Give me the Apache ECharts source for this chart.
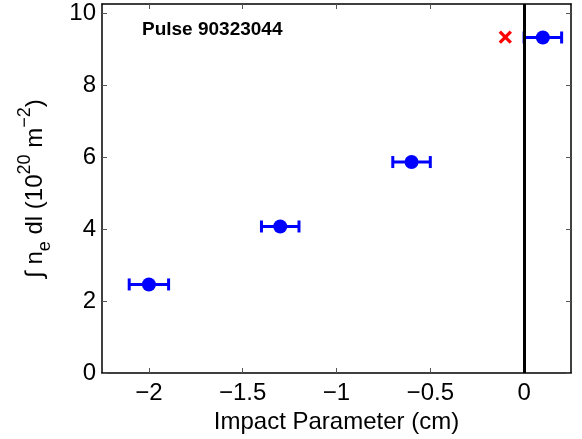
<!DOCTYPE html>
<html><head><meta charset="utf-8">
<script src="https://cdn.jsdelivr.net/npm/echarts@6/dist/echarts.min.js"></script>
<style>html,body{margin:0;padding:0;background:#fff}#c{width:582px;height:439px}</style>
</head><body><div id="c"></div>
<script>
const impactParam = [-2.0, -1.3, -0.6, 0.1];
const lineDensity = [2.46, 4.07, 5.86, 9.32];
const xError = [0.105, 0.1, 0.1, 0.1];
const crossPoint = [[-0.1, 9.33]];
const xTicks = [-2, -1.5, -1, -0.5, 0];
const yTicks = [0, 2, 4, 6, 8, 10];
const pulseLabel = 'Pulse 90323044';

const font = 'Liberation Sans, Arial, Helvetica, sans-serif';
const chart = echarts.init(document.getElementById('c'), null, {renderer: 'canvas'});
const axisLine = {show: true, onZero: false, lineStyle: {color: '#000', width: 1.5}};
const tickStyle = {color: '#555', width: 1};
const pts = impactParam.map((x, i) => [x, lineDensity[i], xError[i]]);
chart.setOption({
  animation: false,
  backgroundColor: '#fff',
  grid: {left: 102, right: 11, top: 4, bottom: 66, containLabel: false},
  xAxis: [
    {type: 'value', min: -2.25, max: 0.25, interval: 0.5, position: 'bottom',
      name: 'Impact Parameter (cm)', nameLocation: 'middle', nameGap: 26,
      nameTextStyle: {fontFamily: font, fontSize: 24, color: '#000'},
      axisLine: axisLine, splitLine: {show: false},
      axisLabel: {fontFamily: font, fontSize: 24, color: '#000', margin: 8,
        customValues: xTicks,
        formatter: v => (v < 0 ? '\u2212' + Math.abs(v) : String(v))},
      axisTick: {show: true, inside: true, length: 5, customValues: xTicks, lineStyle: tickStyle}},
    {type: 'value', min: -2.25, max: 0.25, position: 'top',
      axisLine: axisLine, splitLine: {show: false},
      axisLabel: {show: false},
      axisTick: {show: true, inside: true, length: 5, customValues: xTicks, lineStyle: tickStyle}}
  ],
  yAxis: [
    {type: 'value', min: 0, max: 10.25, position: 'left',
      name: '{n|\u222B n}{sub|e}{n| dl (10}{sup|20}{n| m}{sup|\u22122}{n|)}',
      nameLocation: 'middle', nameGap: 48, nameRotate: 90,
      nameTextStyle: {fontFamily: font, fontSize: 24, color: '#000',
        rich: {
          n: {fontFamily: font, fontSize: 24, color: '#000', lineHeight: 38, verticalAlign: 'middle'},
          sub: {fontFamily: font, fontSize: 18, color: '#000', lineHeight: 38, verticalAlign: 'bottom'},
          sup: {fontFamily: font, fontSize: 18, color: '#000', lineHeight: 38, verticalAlign: 'top'}
        }},
      axisLine: axisLine, splitLine: {show: false},
      axisLabel: {fontFamily: font, fontSize: 24, color: '#000', margin: 6, customValues: yTicks},
      axisTick: {show: true, inside: true, length: 5, customValues: yTicks, lineStyle: tickStyle}},
    {type: 'value', min: 0, max: 10.25, position: 'right',
      axisLine: axisLine, splitLine: {show: false},
      axisLabel: {show: false},
      axisTick: {show: true, inside: true, length: 5, customValues: yTicks, lineStyle: tickStyle}}
  ],
  graphic: [{type: 'text', left: 142, top: 20,
    style: {text: pulseLabel, fontFamily: font, fontSize: 19, fontWeight: 'bold', fill: '#000'}}],
  series: [
    {type: 'line', data: [], xAxisIndex: 0, yAxisIndex: 0,
     markLine: {silent: true, symbol: ['none', 'none'], label: {show: false},
       lineStyle: {color: '#000', width: 3, type: 'solid', opacity: 1}, data: [{xAxis: 0}]}},
    {type: 'custom', xAxisIndex: 0, yAxisIndex: 0, data: pts, z: 3,
     renderItem: (params, api) => {
       const x = api.value(0), y = api.value(1), e = api.value(2);
       const l = api.coord([x - e, y]), r = api.coord([x + e, y]);
       const cap = 6;
       const st = {stroke: '#0000ff', lineWidth: 3};
       return {type: 'group', children: [
         {type: 'line', shape: {x1: l[0], y1: l[1], x2: r[0], y2: r[1]}, style: st},
         {type: 'line', shape: {x1: l[0], y1: l[1] - cap, x2: l[0], y2: l[1] + cap}, style: st},
         {type: 'line', shape: {x1: r[0], y1: r[1] - cap, x2: r[0], y2: r[1] + cap}, style: st}
       ]};
     }},
    {type: 'scatter', xAxisIndex: 0, yAxisIndex: 0, data: pts.map(p => [p[0], p[1]]), z: 4,
     symbol: 'circle', symbolSize: 14, itemStyle: {color: '#0000ff', opacity: 1}},
    {type: 'custom', xAxisIndex: 0, yAxisIndex: 0, data: crossPoint, z: 4,
     renderItem: (params, api) => {
       const c = api.coord([api.value(0), api.value(1)]);
       const h = 5.5;
       const st = {stroke: '#ff0000', lineWidth: 3.2};
       return {type: 'group', children: [
         {type: 'line', shape: {x1: c[0] - h, y1: c[1] - h, x2: c[0] + h, y2: c[1] + h}, style: st},
         {type: 'line', shape: {x1: c[0] - h, y1: c[1] + h, x2: c[0] + h, y2: c[1] - h}, style: st}
       ]};
     }}
  ]
});
</script></body></html>
